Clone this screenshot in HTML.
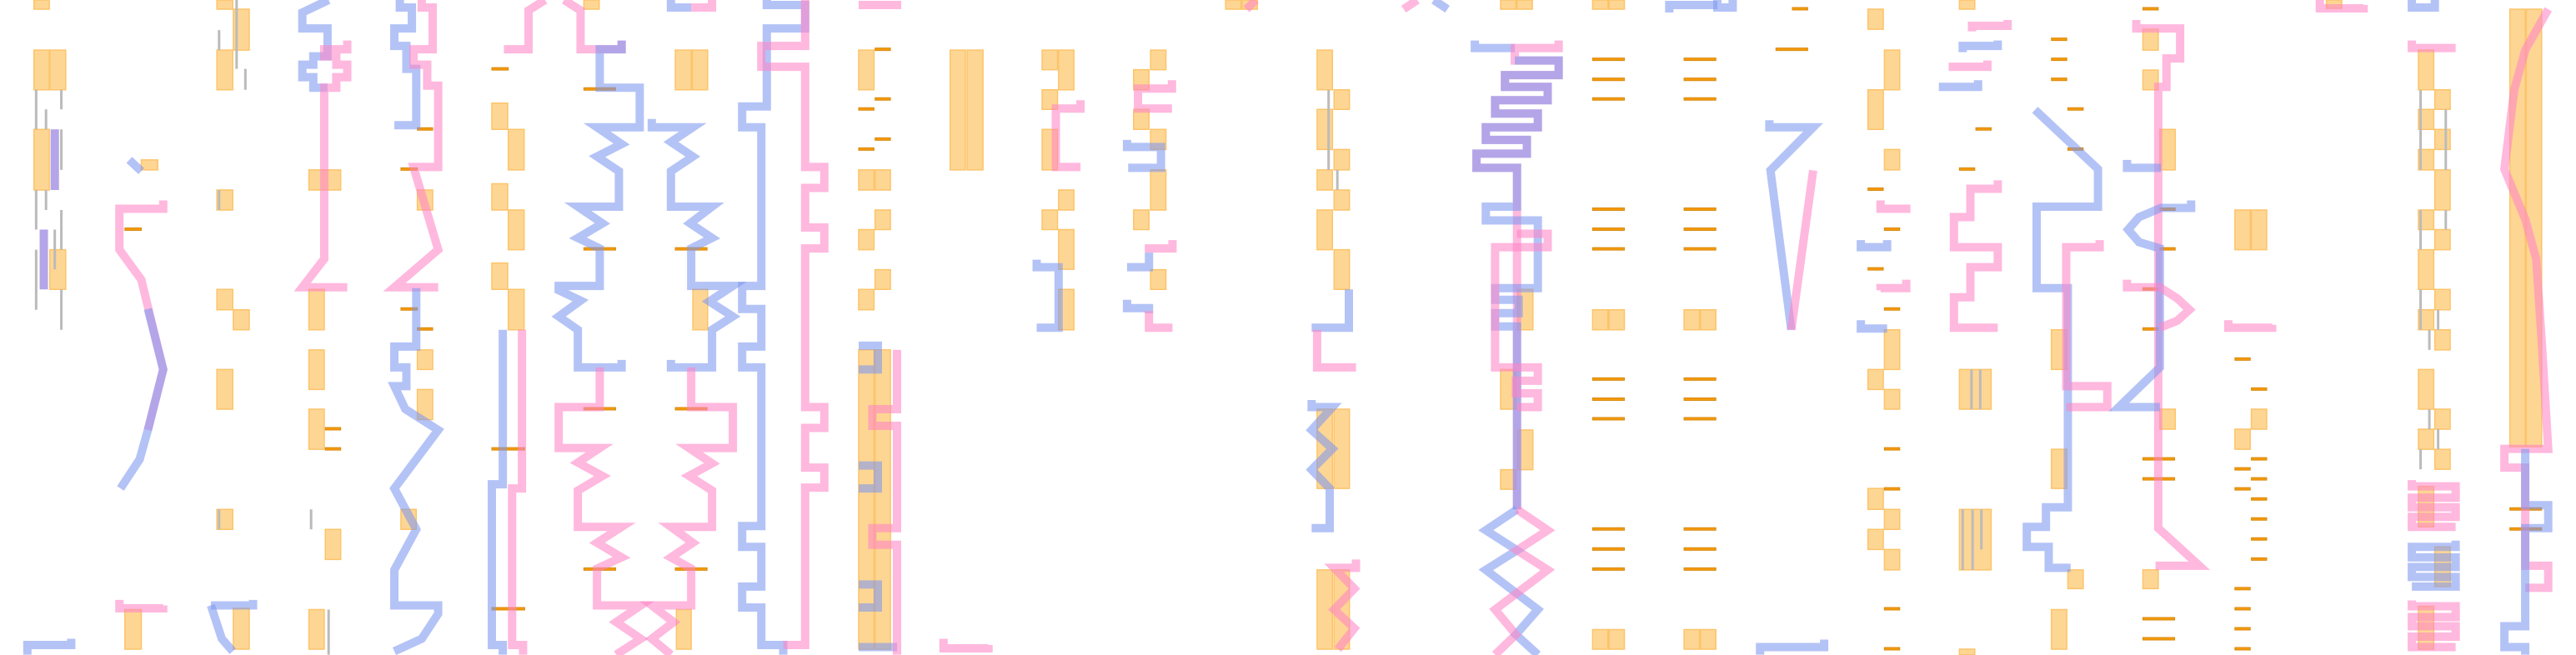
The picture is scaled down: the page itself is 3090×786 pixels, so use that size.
<!DOCTYPE html>
<html><head><meta charset="utf-8"><style>
html,body{margin:0;padding:0;background:#fff}
svg{display:block}
polyline,path{vector-effect:non-scaling-stroke;fill:none;stroke-linejoin:miter}
.b{stroke:#7d98f0;stroke-opacity:.58;stroke-width:10}
.p{stroke:#ff84c6;stroke-opacity:.58;stroke-width:10}
.o rect{fill:#fed694;stroke:#fcc46a;stroke-width:1.5;vector-effect:non-scaling-stroke}
.d rect{fill:#f59a0a;stroke:#d98a10;stroke-width:1;vector-effect:non-scaling-stroke}
</style></head><body>
<svg width="3090" height="786" viewBox="0 0 3090 786" xmlns="http://www.w3.org/2000/svg">
<!-- zoom1 region -->
<g transform="translate(0,0) scale(0.657,0.501)">
<g class="o">
<rect x="62" y="0" width="28" height="22"/><rect x="62" y="120" width="28" height="95"/><rect x="91" y="120" width="29" height="95"/>
<rect x="62" y="310" width="28" height="145"/><rect x="91" y="598" width="29" height="95"/>
<rect x="258" y="383" width="30" height="24"/><rect x="228" y="1460" width="30" height="95"/>
<rect x="396" y="0" width="29" height="22"/><rect x="426" y="22" width="29" height="98"/><rect x="396" y="120" width="29" height="95"/>
<rect x="396" y="455" width="29" height="48"/><rect x="396" y="693" width="29" height="49"/><rect x="426" y="742" width="29" height="48"/>
<rect x="396" y="885" width="29" height="95"/><rect x="396" y="1220" width="29" height="48"/><rect x="426" y="1457" width="29" height="98"/>
<rect x="564" y="407" width="58" height="48"/><rect x="564" y="693" width="28" height="97"/><rect x="564" y="838" width="28" height="95"/>
<rect x="564" y="980" width="28" height="96"/><rect x="594" y="1268" width="28" height="72"/><rect x="564" y="1460" width="28" height="95"/>
<rect x="762" y="455" width="28" height="48"/><rect x="762" y="838" width="28" height="47"/><rect x="762" y="933" width="28" height="72"/><rect x="732" y="1220" width="28" height="48"/>
<rect x="898" y="247" width="29" height="63"/><rect x="928" y="310" width="29" height="97"/><rect x="898" y="440" width="29" height="63"/>
<rect x="928" y="503" width="29" height="95"/><rect x="898" y="630" width="29" height="63"/><rect x="928" y="693" width="29" height="97"/>
<rect x="1066" y="0" width="28" height="22"/><rect x="1233" y="120" width="29" height="95"/><rect x="1264" y="120" width="28" height="95"/>
<rect x="1265" y="693" width="27" height="97"/><rect x="1235" y="1460" width="27" height="95"/>
</g>
<g class="d">
<rect x="898" y="162" width="30" height="6"/><rect x="1066" y="210" width="58" height="6"/><rect x="1066" y="593" width="58" height="6"/>
<rect x="1233" y="593" width="58" height="6"/><rect x="1066" y="976" width="58" height="6"/><rect x="1233" y="976" width="58" height="6"/>
<rect x="1066" y="1360" width="58" height="6"/><rect x="1233" y="1360" width="58" height="6"/><rect x="228" y="546" width="30" height="6"/>
<rect x="732" y="402" width="30" height="6"/><rect x="732" y="737" width="30" height="6"/><rect x="762" y="785" width="28" height="6"/>
<rect x="594" y="1024" width="28" height="6"/><rect x="594" y="1072" width="28" height="6"/><rect x="762" y="306" width="28" height="6"/>
<rect x="898" y="1072" width="60" height="6"/><rect x="898" y="1455" width="60" height="6"/>
</g>
<path d="M66 215V310M66 455V550M66 598V742M112 215V262M112 310V407M112 503V598M112 693V790M84 262V310M84 455V503M100 550V645M400 72V120M432 0V165M448 165V215M400 455V503M400 1220V1268M568 1220V1268M600 1460V1568" style="stroke:#bbb;stroke-width:3"/>
<polyline class="p" points="100,310 100,455"/><polyline class="b" points="100,310 100,455"/>
<polyline class="p" points="80,550 80,693"/><polyline class="b" points="80,550 80,693"/>
<polyline class="b" points="236,383 258,410"/>
<polyline class="p" points="298,480 298,500 218,500 218,598 258,670 298,885 270,1030"/>
<polyline class="b" points="270,740 298,885 270,1030 255,1100 220,1170"/>
<polyline class="p" points="218,1437 218,1457 298,1457 298,1450"/>
<polyline class="b" points="50,1568 50,1545 130,1545 130,1530"/>
<polyline class="b" points="385,1450 462,1450 462,1437"/><polyline class="b" points="385,1450 405,1530 425,1560"/>
<polyline class="b" points="600,0 552,30 552,68 598,68 598,135 572,135 572,155 552,155 552,185 572,185 572,210 598,210"/>
<polyline class="p" points="634,97 634,118 592,118 592,135 614,135 614,155 634,155 634,185 614,185 614,210 592,210 592,620 552,688 634,688"/>
<polyline class="b" points="730,0 730,18 752,18 752,68 720,68 720,110 742,110 742,165 760,165 760,300 720,300"/>
<polyline class="p" points="770,0 770,18 790,18 790,118 755,118 755,155 780,155 780,205 800,205 800,400 755,400 800,598 720,688 800,688"/>
<polyline class="b" points="760,690 760,830 720,830 720,880 742,880 742,925 720,925 740,980 800,1030 720,1170 760,1268 720,1365 720,1450 800,1450 800,1470 770,1530 720,1560"/>
<polyline class="b" points="918,790 918,1160 898,1160 898,1545 918,1545 918,1568"/>
<polyline class="p" points="953,790 953,1170 935,1170 935,1545 955,1545 955,1568"/>
<polyline class="p" points="920,118 965,118 965,25 995,0"/>
<polyline class="p" points="1030,0 1060,25 1060,118 1135,118 1135,97"/>
<polyline class="b" points="1135,97 1135,118 1095,118 1095,210 1168,210 1168,305 1090,305 1135,345 1090,375 1130,410 1130,495 1055,495 1100,535 1055,570 1095,595 1095,685 1020,685 1020,695 1060,720 1020,758 1055,790 1055,880 1135,880 1135,862"/>
<polyline class="p" points="1095,880 1095,975 1020,975 1020,1073 1095,1073 1055,1108 1100,1140 1055,1175 1055,1262 1135,1262 1090,1300 1135,1335 1090,1362 1090,1450 1170,1450 1125,1490 1170,1530 1125,1568"/>
<polyline class="b" points="1190,285 1190,305 1265,305 1225,340 1265,375 1225,410 1225,495 1300,495 1260,535 1300,570 1262,595 1262,685 1338,685 1295,722 1338,758 1300,790 1300,880 1225,880 1225,862"/>
<polyline class="p" points="1262,880 1262,975 1338,975 1338,1073 1258,1073 1300,1110 1258,1140 1300,1175 1300,1262 1225,1262 1265,1300 1225,1335 1262,1362 1262,1450 1190,1450 1230,1490 1190,1530 1225,1568"/>
<polyline class="b" points="1225,0 1225,18 1262,18"/><polyline class="p" points="1262,18 1300,18 1300,0"/>
<polyline class="b" points="1400,0 1400,12 1470,12 1470,68 1400,68 1400,255 1355,255 1355,305 1390,305 1390,685 1355,685 1355,740 1390,740 1390,830 1355,830 1355,880 1390,880 1390,1260 1355,1260 1355,1310 1390,1310 1390,1405 1355,1405 1355,1455 1390,1455 1390,1545 1430,1545 1430,1568"/>
<polyline class="p" points="1470,0 1470,110 1390,110 1390,160 1470,160 1470,400 1505,400 1505,450 1470,450 1470,545 1505,545 1505,595 1470,595 1470,975 1505,975 1505,1025 1470,1025 1470,1120 1505,1120 1505,1168 1470,1168 1470,1545 1430,1545"/>
</g>
<!-- zoom2 region -->
<g transform="translate(1030,0) scale(0.657,0.501)">
<g class="o">
<rect x="0" y="120" width="28" height="95"/><rect x="0" y="407" width="28" height="48"/><rect x="30" y="407" width="28" height="48"/>
<rect x="30" y="503" width="28" height="47"/><rect x="0" y="550" width="28" height="48"/><rect x="30" y="646" width="28" height="47"/><rect x="0" y="693" width="28" height="49"/>
<rect x="0" y="838" width="28" height="717"/><rect x="30" y="838" width="28" height="717"/>
<rect x="167" y="120" width="28" height="287"/><rect x="198" y="120" width="29" height="287"/>
<rect x="335" y="120" width="28" height="47"/><rect x="365" y="120" width="28" height="95"/><rect x="335" y="215" width="28" height="47"/>
<rect x="335" y="310" width="28" height="97"/><rect x="365" y="455" width="28" height="48"/><rect x="335" y="503" width="28" height="47"/>
<rect x="365" y="550" width="28" height="95"/><rect x="365" y="693" width="28" height="97"/>
<rect x="533" y="120" width="28" height="47"/><rect x="502" y="167" width="28" height="48"/><rect x="502" y="262" width="28" height="48"/>
<rect x="533" y="310" width="28" height="48"/><rect x="533" y="407" width="28" height="96"/><rect x="502" y="503" width="28" height="47"/><rect x="533" y="646" width="28" height="47"/>
<rect x="837" y="120" width="28" height="95"/><rect x="868" y="215" width="28" height="47"/><rect x="837" y="262" width="28" height="96"/>
<rect x="868" y="358" width="28" height="49"/><rect x="837" y="407" width="28" height="48"/><rect x="868" y="455" width="28" height="48"/>
<rect x="837" y="503" width="28" height="95"/><rect x="868" y="598" width="28" height="95"/>
<rect x="837" y="980" width="28" height="190"/><rect x="868" y="980" width="28" height="190"/><rect x="837" y="1365" width="28" height="190"/><rect x="868" y="1365" width="28" height="190"/>
<rect x="670" y="0" width="28" height="22"/><rect x="700" y="0" width="28" height="22"/><rect x="1172" y="0" width="28" height="22"/><rect x="1202" y="0" width="28" height="22"/>
<rect x="1203" y="693" width="28" height="97"/><rect x="1172" y="885" width="28" height="95"/><rect x="1203" y="1030" width="28" height="95"/><rect x="1172" y="1125" width="28" height="47"/>
<rect x="1340" y="0" width="28" height="22"/><rect x="1370" y="0" width="28" height="22"/>
<rect x="1340" y="742" width="28" height="48"/><rect x="1370" y="742" width="28" height="48"/><rect x="1340" y="1508" width="28" height="47"/><rect x="1370" y="1508" width="28" height="47"/>
<rect x="1507" y="742" width="28" height="48"/><rect x="1537" y="742" width="28" height="48"/><rect x="1507" y="1508" width="28" height="47"/><rect x="1537" y="1508" width="28" height="47"/>
</g>
<g class="d">
<rect x="30" y="115" width="28" height="6"/><rect x="30" y="234" width="28" height="6"/><rect x="0" y="258" width="28" height="6"/><rect x="30" y="330" width="28" height="6"/><rect x="0" y="354" width="28" height="6"/>
<rect x="1340" y="139" width="58" height="6"/><rect x="1340" y="187" width="58" height="6"/><rect x="1340" y="234" width="58" height="6"/>
<rect x="1340" y="498" width="58" height="6"/><rect x="1340" y="546" width="58" height="6"/><rect x="1340" y="593" width="58" height="6"/>
<rect x="1340" y="905" width="58" height="6"/><rect x="1340" y="953" width="58" height="6"/><rect x="1340" y="1000" width="58" height="6"/>
<rect x="1340" y="1264" width="58" height="6"/><rect x="1340" y="1312" width="58" height="6"/><rect x="1340" y="1360" width="58" height="6"/>
<rect x="1507" y="139" width="58" height="6"/><rect x="1507" y="187" width="58" height="6"/><rect x="1507" y="234" width="58" height="6"/>
<rect x="1507" y="498" width="58" height="6"/><rect x="1507" y="546" width="58" height="6"/><rect x="1507" y="593" width="58" height="6"/>
<rect x="1507" y="905" width="58" height="6"/><rect x="1507" y="953" width="58" height="6"/><rect x="1507" y="1000" width="58" height="6"/>
<rect x="1507" y="1264" width="58" height="6"/><rect x="1507" y="1312" width="58" height="6"/><rect x="1507" y="1360" width="58" height="6"/>
</g>
<path d="M858 215V407M874 407V455" style="stroke:#bbb;stroke-width:3"/>
<polyline class="b" points="0,828 35,828 35,885 0,885"/><polyline class="b" points="0,1115 35,1115 35,1170 0,1170"/><polyline class="b" points="0,1400 35,1400 35,1455 0,1455"/>
<polyline class="b" points="0,1550 70,1550"/>
<polyline class="p" points="70,838 70,980 25,980 25,1020 70,1020 70,1265 25,1265 25,1305 70,1305 70,1568"/>
<polyline class="p" points="0,12 70,12 70,22"/>
<polyline class="p" points="155,1530 155,1553 237,1553 237,1545"/>
<polyline class="p" points="405,240 405,260 360,260 360,400 405,400"/>
<polyline class="b" points="325,622 325,640 365,640 365,785 325,785"/>
<polyline class="p" points="572,192 572,212 510,212 510,260 572,260"/>
<polyline class="b" points="490,335 490,352 552,352 552,402 492,402"/>
<polyline class="p" points="573,575 573,595 530,595 530,605"/><polyline class="b" points="530,605 530,640 490,640"/>
<polyline class="b" points="490,718 490,738 530,738 530,750"/><polyline class="p" points="530,745 530,785 573,785"/>
<polyline class="b" points="895,693 895,785 827,785"/>
<polyline class="p" points="837,790 837,880 908,880"/>
<polyline class="b" points="827,958 827,975 865,975 827,1030 865,1075 827,1125 860,1170 860,1265 827,1265"/>
<polyline class="p" points="908,1340 908,1360 868,1360 905,1410 868,1460 905,1505 875,1555"/>
<polyline class="p" points="725,0 708,22"/><polyline class="p" points="995,22 1020,0"/><polyline class="b" points="1050,0 1075,22"/>
<polyline class="b" points="1125,97 1125,115 1198,115"/>
<polyline class="p" points="1278,97 1278,115 1198,115 1198,145 1278,145 1278,180 1180,180 1180,208 1258,208 1258,240 1162,240 1162,272 1240,272 1240,305 1145,305 1145,335 1220,335 1220,368 1128,368 1128,402 1202,402 1202,1220"/>
<polyline class="b" points="1198,145 1278,145 1278,180 1180,180 1180,208 1258,208 1258,240 1162,240 1162,272 1240,272 1240,305 1145,305 1145,335 1220,335 1220,368 1128,368 1128,402 1202,402 1202,495 1145,495 1145,528 1240,528 1240,690 1162,690 1162,718 1205,718 1205,750 1162,750 1162,782 1202,782 1202,1220"/>
<polyline class="p" points="1202,560 1258,560 1258,592 1162,592 1162,880 1240,880 1240,912 1200,912 1200,942 1240,942 1240,975 1202,975"/>
<polyline class="b" points="1202,1220 1145,1270 1202,1318 1145,1365 1240,1460 1200,1520 1240,1568"/>
<polyline class="p" points="1202,1220 1258,1270 1202,1318 1258,1365 1162,1460 1200,1520 1162,1568"/>
<polyline class="b" points="1480,30 1480,12 1568,12"/>
</g>
<!-- zoom3 region -->
<g transform="translate(2060,0) scale(0.657,0.501)">
<g class="o">
<rect x="275" y="22" width="28" height="48"/><rect x="305" y="120" width="28" height="95"/><rect x="275" y="215" width="28" height="95"/>
<rect x="305" y="358" width="28" height="49"/><rect x="305" y="790" width="28" height="95"/><rect x="275" y="885" width="28" height="48"/>
<rect x="305" y="933" width="28" height="47"/><rect x="275" y="1170" width="28" height="50"/><rect x="305" y="1220" width="28" height="48"/>
<rect x="275" y="1268" width="28" height="48"/><rect x="305" y="1316" width="28" height="49"/>
<rect x="442" y="0" width="28" height="22"/><rect x="442" y="885" width="58" height="95"/><rect x="442" y="1220" width="58" height="145"/><rect x="442" y="1555" width="28" height="13"/>
<rect x="610" y="790" width="28" height="95"/><rect x="610" y="1076" width="28" height="94"/><rect x="640" y="1365" width="28" height="45"/><rect x="610" y="1460" width="28" height="95"/>
<rect x="777" y="70" width="28" height="50"/><rect x="777" y="168" width="28" height="47"/><rect x="808" y="310" width="28" height="97"/><rect x="808" y="980" width="28" height="48"/><rect x="777" y="1365" width="28" height="45"/>
<rect x="945" y="503" width="28" height="95"/><rect x="975" y="503" width="28" height="95"/><rect x="975" y="980" width="28" height="48"/><rect x="945" y="1028" width="28" height="48"/>
<rect x="1112" y="0" width="28" height="20"/>
<rect x="1280" y="120" width="28" height="95"/><rect x="1310" y="215" width="28" height="47"/><rect x="1280" y="262" width="28" height="48"/>
<rect x="1310" y="310" width="28" height="48"/><rect x="1280" y="358" width="28" height="49"/><rect x="1310" y="407" width="28" height="96"/>
<rect x="1280" y="503" width="28" height="47"/><rect x="1310" y="550" width="28" height="48"/><rect x="1280" y="598" width="28" height="95"/>
<rect x="1310" y="693" width="28" height="49"/><rect x="1280" y="742" width="28" height="48"/><rect x="1310" y="790" width="28" height="48"/>
<rect x="1280" y="885" width="28" height="95"/><rect x="1310" y="980" width="28" height="48"/><rect x="1280" y="1028" width="28" height="48"/><rect x="1310" y="1076" width="28" height="48"/>
<rect x="1280" y="1165" width="28" height="97"/><rect x="1310" y="1310" width="28" height="95"/><rect x="1280" y="1452" width="28" height="103"/>
<rect x="1447" y="22" width="28" height="1048"/><rect x="1477" y="22" width="28" height="1048"/>
</g>
<g class="d">
<rect x="137" y="18" width="28" height="6"/><rect x="107" y="115" width="58" height="6"/><rect x="275" y="450" width="28" height="6"/><rect x="305" y="546" width="28" height="6"/>
<rect x="275" y="641" width="28" height="6"/><rect x="305" y="737" width="28" height="6"/><rect x="305" y="1072" width="28" height="6"/><rect x="305" y="1168" width="28" height="6"/>
<rect x="305" y="1455" width="28" height="6"/><rect x="305" y="1551" width="28" height="6"/><rect x="472" y="306" width="28" height="6"/><rect x="442" y="402" width="28" height="6"/>
<rect x="610" y="91" width="28" height="6"/><rect x="610" y="139" width="28" height="6"/><rect x="610" y="187" width="28" height="6"/><rect x="640" y="258" width="28" height="6"/><rect x="640" y="354" width="28" height="6"/>
<rect x="777" y="18" width="28" height="6"/><rect x="808" y="498" width="28" height="6"/><rect x="808" y="593" width="28" height="6"/><rect x="777" y="689" width="28" height="6"/><rect x="777" y="785" width="28" height="6"/>
<rect x="777" y="1096" width="58" height="6"/><rect x="777" y="1144" width="58" height="6"/><rect x="777" y="1479" width="58" height="6"/><rect x="777" y="1527" width="58" height="6"/>
<rect x="945" y="857" width="28" height="6"/><rect x="975" y="929" width="28" height="6"/><rect x="975" y="1096" width="28" height="6"/><rect x="945" y="1120" width="28" height="6"/>
<rect x="975" y="1144" width="28" height="6"/><rect x="945" y="1168" width="28" height="6"/><rect x="975" y="1192" width="28" height="6"/><rect x="975" y="1240" width="28" height="6"/>
<rect x="975" y="1288" width="28" height="6"/><rect x="975" y="1336" width="28" height="6"/><rect x="945" y="1407" width="28" height="6"/><rect x="945" y="1455" width="28" height="6"/><rect x="945" y="1503" width="28" height="6"/><rect x="945" y="1551" width="28" height="6"/>
<rect x="1447" y="1216" width="58" height="6"/><rect x="1447" y="1264" width="58" height="6"/>
</g>
<path d="M1284 215V407M1330 262V407M1284 503V598M1330 503V550M1284 693V790M1316 742V790M1300 790V838M1300 980V1028M1316 1028V1076M1284 1076V1124M464 885V980M480 885V980M448 1220V1365M466 1220V1365M482 1220V1316" style="stroke:#bbb;stroke-width:3"/>
<polyline class="b" points="0,0 0,18 28,18 28,0"/>
<polyline class="b" points="95,288 95,305 175,305 97,408 135,790"/>
<polyline class="p" points="175,408 135,790"/>
<polyline class="b" points="78,1568 78,1550 195,1550 195,1532"/>
<polyline class="p" points="298,480 298,500 345,500 345,490"/><polyline class="p" points="298,695 298,690 345,690 345,670"/>
<polyline class="b" points="262,575 262,592 310,592 310,575"/><polyline class="b" points="262,767 262,787 310,787"/>
<polyline class="p" points="465,75 465,62 530,62 530,48"/><polyline class="b" points="448,125 448,110 512,110 512,97"/>
<polyline class="p" points="430,170 430,160 493,160 493,145"/><polyline class="b" points="412,218 412,208 476,208 476,192"/>
<polyline class="p" points="512,432 512,452 462,452 462,520 432,520 432,592 512,592 512,640 462,640 462,712 432,712 432,785 512,785"/>
<polyline class="b" points="580,263 695,405 695,495 583,495 583,690 640,690 640,1215 600,1215 600,1262 565,1262 565,1310 605,1310 605,1360 645,1360"/>
<polyline class="p" points="698,575 698,592 637,592 637,925 712,925 712,975 637,975"/>
<polyline class="p" points="765,48 765,68 845,68 845,140 820,140 820,208 805,208 805,1265 880,1355 800,1355"/>
<polyline class="b" points="748,383 748,402 810,402"/>
<polyline class="b" points="865,480 865,498 810,498 770,520 750,550 770,580 808,595 808,880 733,975 808,975"/>
<polyline class="p" points="748,670 748,688 808,688 840,715 862,742 840,768 808,785"/>
<polyline class="p" points="933,767 933,785 1013,785 1013,778"/>
<polyline class="p" points="1100,0 1100,20 1180,20 1180,12"/>
<polyline class="b" points="1268,0 1268,18 1310,18 1310,0"/>
<polyline class="p" points="1268,97 1268,115 1348,115"/>
<polyline class="p" points="1268,1150 1268,1165 1348,1165 1348,1192 1268,1192 1268,1215 1348,1215 1348,1238 1268,1238 1268,1262 1348,1262"/>
<polyline class="b" points="1348,1295 1348,1310 1268,1310 1268,1335 1348,1335 1348,1358 1268,1358 1268,1382 1348,1382 1348,1405 1268,1405"/>
<polyline class="p" points="1268,1438 1268,1452 1348,1452 1348,1478 1268,1478 1268,1500 1348,1500 1348,1525 1268,1525 1268,1550 1348,1550"/>
<polyline class="p" points="1517,22 1475,120 1455,215 1437,405 1475,525 1495,620 1505,815 1517,1075 1437,1075 1437,1120 1475,1120 1475,1355 1517,1355 1517,1408 1475,1408"/>
<polyline class="b" points="1475,1075 1475,1210 1517,1210 1517,1265 1475,1265 1475,1500 1437,1500 1437,1550 1475,1550 1475,1568"/>
</g>
</svg>
</body></html>
